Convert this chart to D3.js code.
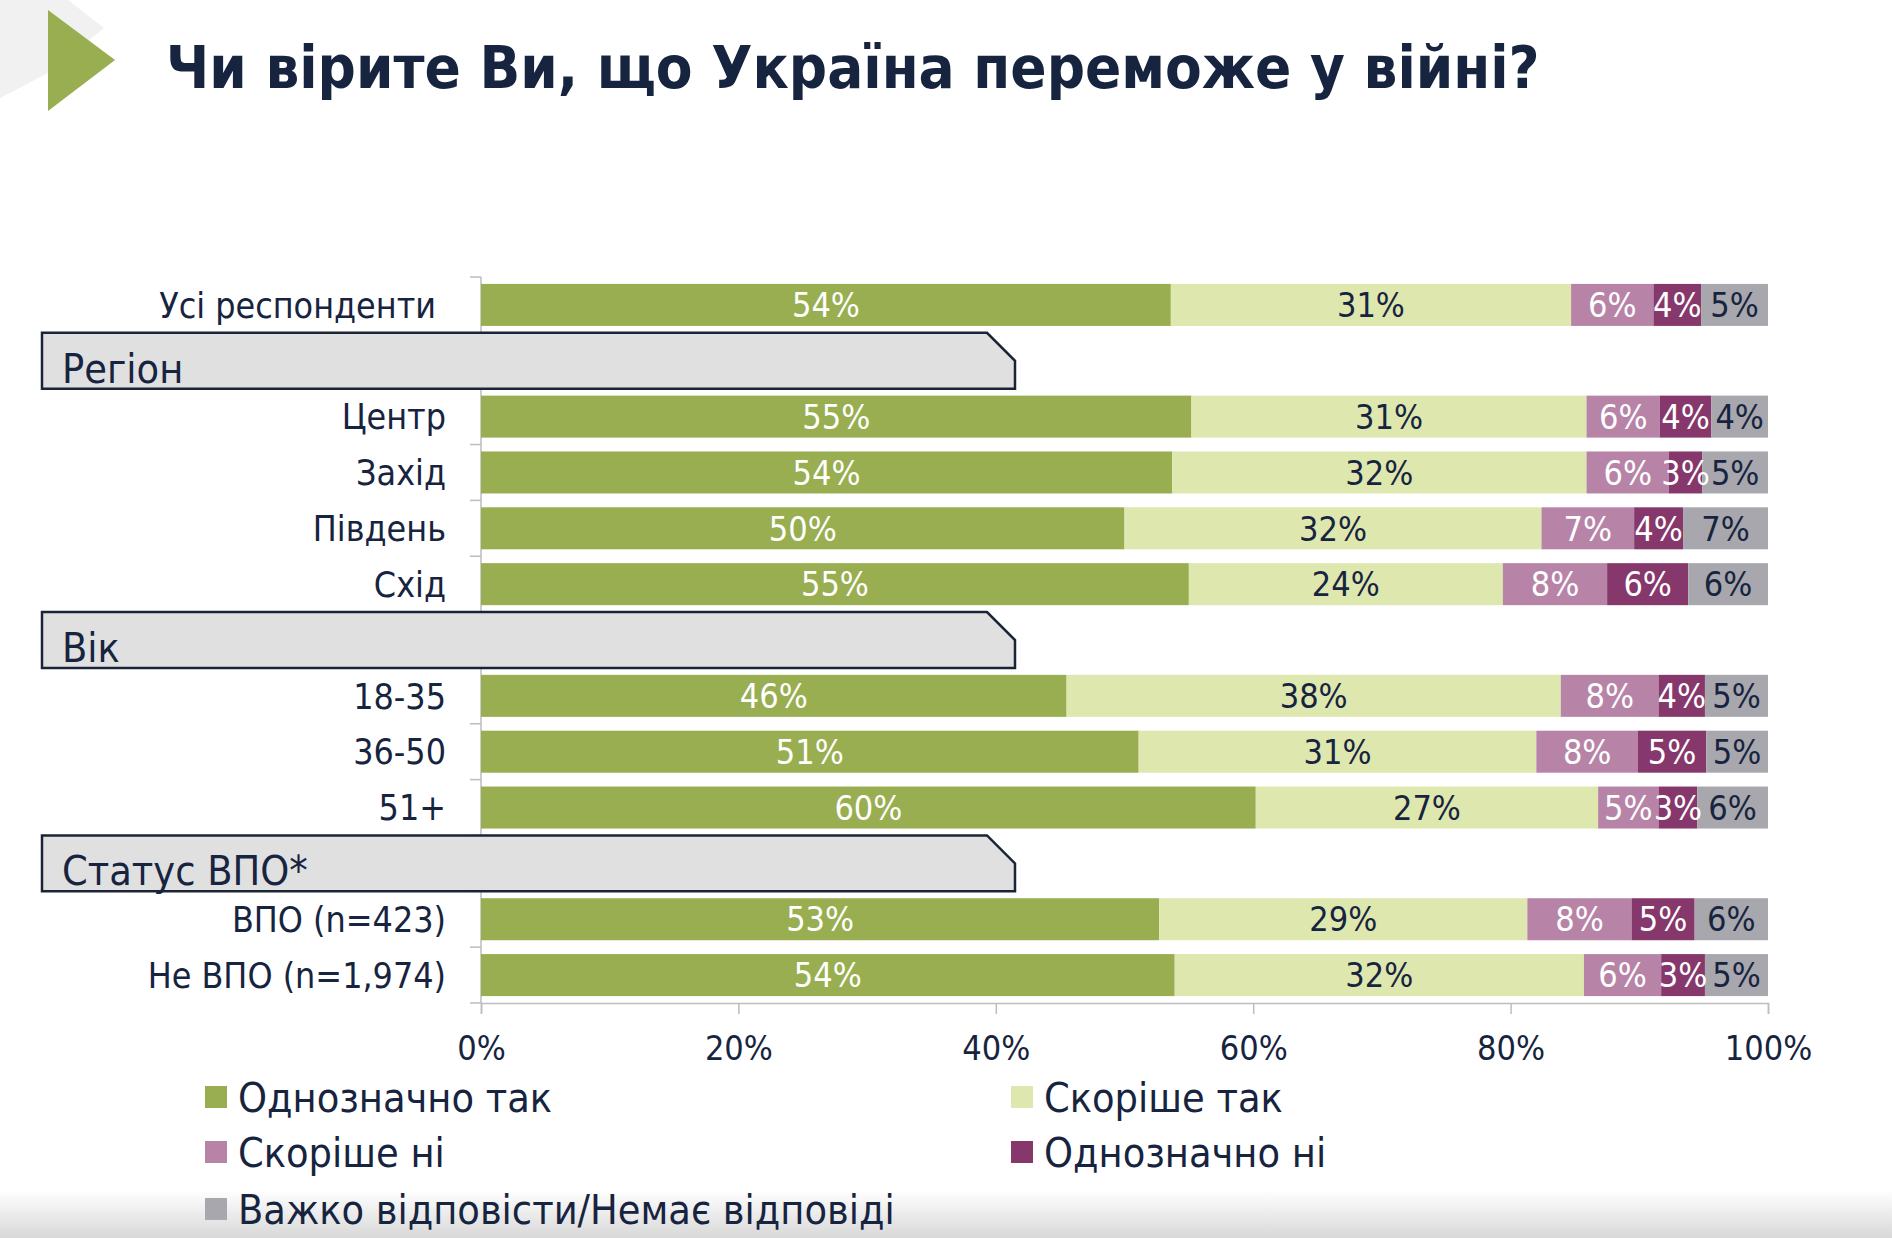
<!DOCTYPE html>
<html>
<head>
<meta charset="utf-8">
<script src="https://cdn.jsdelivr.net/npm/d3@7"></script>
<style>
  html, body { margin: 0; padding: 0; background: #ffffff; }
  svg { display: block; }
  .lbl { font-family: 'DejaVu Sans Condensed', 'DejaVu Sans', sans-serif; font-stretch: condensed; }
</style>
</head>
<body>
<svg id="chart" width="1892" height="1238"></svg>
<script>
// ---------- data ----------
const title = "Чи вірите Ви, що Україна переможе у війні?";
const categories = ["Усі респонденти", "Регіон", "Центр", "Захід", "Південь", "Схід",
  "Вік", "18-35", "36-50", "51+", "Статус ВПО*", "ВПО (n=423)", "Не ВПО (n=1,974)"];
const groupHeaders = ["Регіон", "Вік", "Статус ВПО*"];
const rows = ["Усі респонденти", "Центр", "Захід", "Південь", "Схід",
  "18-35", "36-50", "51+", "ВПО (n=423)", "Не ВПО (n=1,974)"];
const seriesNames = ["Однозначно так", "Скоріше так", "Скоріше ні", "Однозначно ні",
  "Важко відповісти/Немає відповіді"];
const definitelyYes = [53.6, 55.2, 53.7, 50.0, 55.0, 45.5, 51.1, 60.2, 52.7, 53.9];
const ratherYes     = [31.1, 30.7, 32.2, 32.4, 24.4, 38.4, 30.9, 26.6, 28.6, 31.8];
const ratherNo      = [6.4, 5.7, 6.4, 7.2, 8.1, 7.6, 7.9, 4.7, 8.1, 6.0];
const definitelyNo  = [3.7, 4.0, 2.6, 3.8, 6.3, 3.6, 5.3, 3.0, 4.9, 3.4];
const hardToSay     = [5.2, 4.4, 5.1, 6.6, 6.2, 4.9, 4.8, 5.5, 5.7, 4.9];
const xTicks = [0, 20, 40, 60, 80, 100];

// ---------- styles ----------
const colors = ["#98ae50", "#dee7ae", "#b784a8", "#86376b", "#a7a7ad"];
const labelColors = ["#ffffff", "#172440", "#ffffff", "#ffffff", "#172440"];
const navy = "#172440";

const svg = d3.select("#chart");

// background decorations
const defs = svg.append("defs");
const grad = defs.append("linearGradient").attr("id", "bottomGrad")
  .attr("x1", 0).attr("y1", 0).attr("x2", 0).attr("y2", 1);
grad.append("stop").attr("offset", "0%").attr("stop-color", "#ffffff");
grad.append("stop").attr("offset", "100%").attr("stop-color", "#d8d8d8");
svg.append("rect").attr("x", 0).attr("y", 1190).attr("width", 1892).attr("height", 48)
  .attr("fill", "url(#bottomGrad)");

svg.append("polygon").attr("points", "0,0 68,0 104,28 50,72 0,98").attr("fill", "#f1f1f1");
svg.append("polygon").attr("points", "48,10 115,60 48,111").attr("fill", "#98ae50");

svg.append("text").attr("x", 166).attr("y", 88)
  .attr("font-family", "'DejaVu Sans Condensed', 'DejaVu Sans', sans-serif")
  .attr("font-stretch", "condensed")
  .attr("font-weight", "bold").attr("font-size", 59.5).attr("fill", navy)
  .text(title);

// ---------- scales ----------
const x = d3.scaleLinear().domain([0, 100]).range([481, 1768]);
const yFull = d3.scaleBand().domain(categories).range([277, 1003]).padding(0);

// ---------- axes ----------
const axisG = svg.append("g");
axisG.append("line").attr("x1", x(0)).attr("x2", x(0)).attr("y1", 277).attr("y2", 1003)
  .attr("stroke", "#bdbdbd").attr("stroke-width", 1.5);
const bounds = categories.map(c => yFull(c)).concat([yFull(categories[categories.length - 1]) + yFull.bandwidth()]);
axisG.selectAll("line.ct").data(bounds).join("line").attr("class", "ct")
  .attr("x1", x(0) - 11).attr("x2", x(0)).attr("y1", d => d).attr("y2", d => d)
  .attr("stroke", "#bdbdbd").attr("stroke-width", 1.5);

const xAxis = d3.axisBottom(x).tickValues(xTicks).tickFormat(d => d + "%").tickSize(11).tickPadding(22);
const xg = svg.append("g").attr("transform", "translate(0,1003)").call(xAxis);
xg.select(".domain").attr("stroke", "#bdbdbd").attr("stroke-width", 1.5);
xg.selectAll(".tick line").attr("stroke", "#bdbdbd").attr("stroke-width", 1.5);
xg.selectAll(".tick text").attr("class", "lbl").attr("font-size", 34).attr("fill", navy)
  .attr("font-family", "'DejaVu Sans Condensed', 'DejaVu Sans', sans-serif");

// ---------- bars ----------
const table = rows.map((r, i) => ({
  row: r,
  [seriesNames[0]]: definitelyYes[i],
  [seriesNames[1]]: ratherYes[i],
  [seriesNames[2]]: ratherNo[i],
  [seriesNames[3]]: definitelyNo[i],
  [seriesNames[4]]: hardToSay[i]
}));
const stacked = d3.stack().keys(seriesNames)(table);

const bandH = 42;
const barY = r => yFull(r) + (yFull.bandwidth() - bandH) / 2;

const layers = svg.append("g").selectAll("g").data(stacked).join("g")
  .attr("fill", (d, i) => colors[i]);
layers.selectAll("rect").data(d => d).join("rect")
  .attr("x", d => x(d[0]))
  .attr("width", d => x(d[1]) - x(d[0]))
  .attr("y", d => barY(d.data.row))
  .attr("height", bandH);

// ---------- group header boxes ----------
const hdr = svg.append("g").selectAll("g").data(groupHeaders).join("g");
hdr.append("path")
  .attr("d", h => {
    const t = yFull(h), b = t + yFull.bandwidth();
    return `M42,${t} L987,${t} L1015,${t + 28} L1015,${b} L42,${b} Z`;
  })
  .attr("fill", "#e0e0e0").attr("stroke", "#1b2436").attr("stroke-width", 2.5);
hdr.append("text").attr("class", "lbl")
  .attr("x", 62).attr("y", h => yFull(h) + yFull.bandwidth() - 6)
  .attr("font-size", 41).attr("fill", navy)
  .text(h => h);

// ---------- value labels ----------
const labG = svg.append("g").selectAll("g").data(stacked).join("g");
labG.selectAll("text").data((d, i) => d.map(v => ({ v, i }))).join("text")
  .attr("class", "lbl")
  .attr("x", d => (x(d.v[0]) + x(d.v[1])) / 2)
  .attr("y", d => barY(d.v.data.row) + bandH / 2)
  .attr("dy", "0.36em")
  .attr("text-anchor", "middle")
  .attr("font-size", 34)
  .attr("fill", d => labelColors[d.i])
  .text(d => Math.round(d.v[1] - d.v[0]) + "%");

// ---------- category labels ----------
svg.append("g").selectAll("text").data(rows).join("text")
  .attr("class", "lbl")
  .attr("x", (r, i) => i === 0 ? 436 : 446)
  .attr("y", r => yFull(r) + yFull.bandwidth() / 2)
  .attr("dy", "0.36em")
  .attr("text-anchor", "end")
  .attr("font-size", 35.5).attr("fill", navy)
  .text(r => r);

// ---------- legend ----------
const legendPos = [[205, 1097], [1011, 1097], [205, 1152], [1011, 1152], [205, 1209]];
const lg = svg.append("g").selectAll("g").data(seriesNames).join("g")
  .attr("transform", (d, i) => `translate(${legendPos[i][0]},${legendPos[i][1]})`);
lg.append("rect").attr("x", 0).attr("y", -11).attr("width", 22).attr("height", 22)
  .attr("fill", (d, i) => colors[i]);
lg.append("text").attr("class", "lbl").attr("x", 33).attr("y", 0).attr("dy", "0.36em")
  .attr("font-size", 41).attr("fill", navy).text(d => d);
</script>
</body>
</html>
